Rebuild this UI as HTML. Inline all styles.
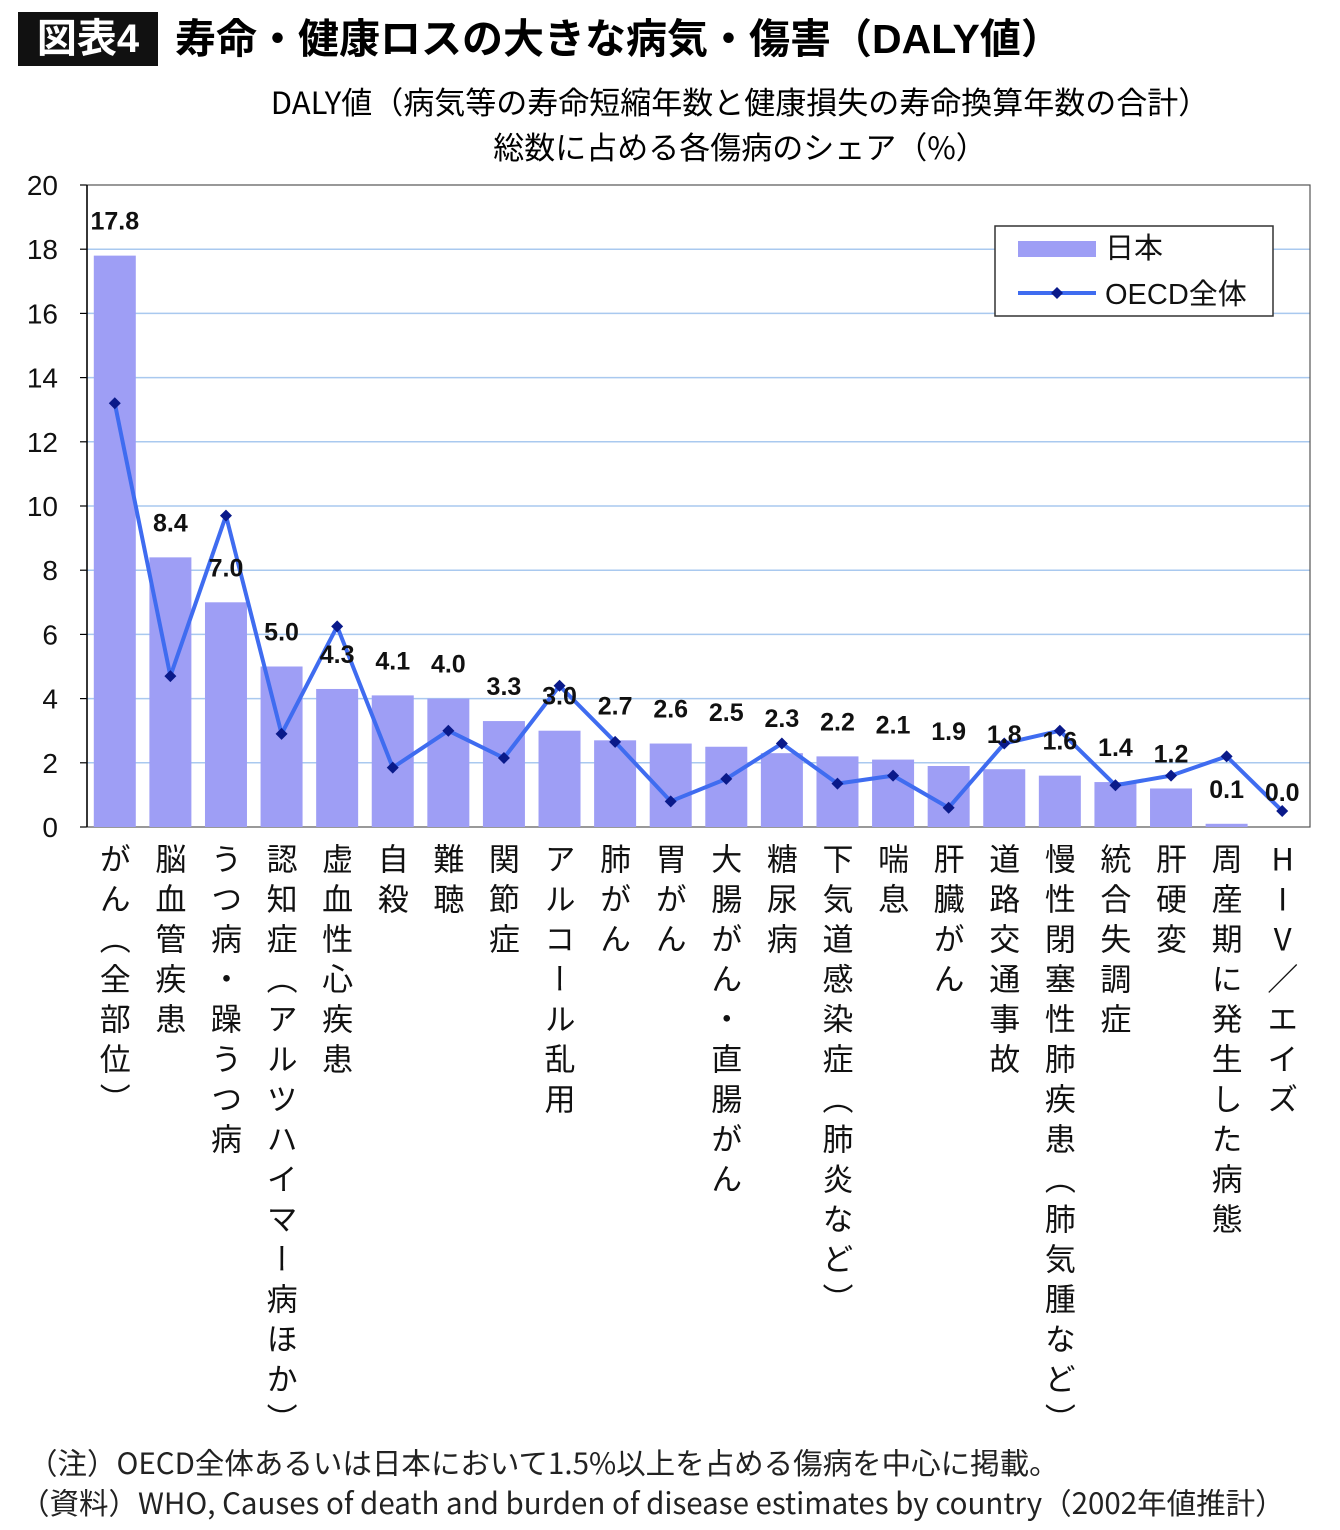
<!DOCTYPE html>
<html><head><meta charset="utf-8">
<style>
body{margin:0;width:1340px;height:1530px;background:#fff;font-family:"Liberation Sans","Noto Sans CJK JP",sans-serif;position:relative;overflow:hidden}
.abs{position:absolute}
.cat{position:absolute;top:843px;writing-mode:vertical-rl;text-orientation:upright;font-family:"Noto Sans CJK JP",sans-serif;font-size:31px;letter-spacing:9px;line-height:40px;width:40px;color:#111}
</style></head><body>
<div class="abs" style="left:18px;top:12px;width:140px;height:54px;background:#111;color:#fff;font-size:40px;font-weight:bold;line-height:54px;text-align:center">図表4</div>
<div class="abs" style="left:175px;top:10px;font-size:41px;font-weight:bold;line-height:58px;white-space:nowrap">寿命・健康ロスの大きな病気・傷害（DALY値）</div>
<div class="abs" style="left:170px;top:78px;width:1140px;text-align:center;font-size:31px;line-height:45px;font-family:'Noto Sans CJK JP',sans-serif">DALY値（病気等の寿命短縮年数と健康損失の寿命換算年数の合計）<br>総数に占める各傷病のシェア（%）</div>
<svg id="chart" class="abs" style="left:0;top:0" width="1340" height="1530"></svg>
<div id="cats"></div>
<div class="abs" style="left:28px;top:1441px;font-size:29.5px;color:#222;white-space:nowrap;font-family:'Noto Sans CJK JP',sans-serif">（注）OECD全体あるいは日本において1.5%以上を占める傷病を中心に掲載。</div>
<div class="abs" style="left:20px;top:1481px;font-size:29.5px;color:#222;white-space:nowrap;font-family:'Noto Sans CJK JP',sans-serif">（資料）WHO, Causes of death and burden of disease estimates by country（2002年値推計）</div>
<script>
const categories=["がん（全部位）","脳血管疾患","うつ病・躁うつ病","認知症（アルツハイマー病ほか）","虚血性心疾患","自殺","難聴","関節症","アルコール乱用","肺がん","胃がん","大腸がん・直腸がん","糖尿病","下気道感染症（肺炎など）","喘息","肝臓がん","道路交通事故","慢性閉塞性肺疾患（肺気腫など）","統合失調症","肝硬変","周産期に発生した病態","HIV／エイズ"];
const japanValues=[17.8,8.4,7.0,5.0,4.3,4.1,4.0,3.3,3.0,2.7,2.6,2.5,2.3,2.2,2.1,1.9,1.8,1.6,1.4,1.2,0.1,0.0];
const oecdValues=[13.2,4.7,9.7,2.9,6.25,1.85,3.0,2.15,4.4,2.65,0.8,1.5,2.6,1.35,1.6,0.6,2.6,3.0,1.3,1.6,2.2,0.5];
const yTicks=[0,2,4,6,8,10,12,14,16,18,20];
const NS="http://www.w3.org/2000/svg";
const svg=document.getElementById('chart');
const L=87,R=1310,T=185,B=827,yMax=20;
const step=(R-L)/categories.length;
const y=v=>B-(v/yMax)*(B-T);
const xc=i=>L+step*(i+0.5);
function mk(tag,attrs,parent){const e=document.createElementNS(NS,tag);for(const k in attrs)e.setAttribute(k,attrs[k]);(parent||svg).appendChild(e);return e;}
yTicks.forEach(t=>{
  if(t>0&&t<20){const g=mk('line',{x1:L,x2:R,y1:y(t),y2:y(t),stroke:'#a9c9ef','stroke-width':1.5});
  
  }
  mk('line',{x1:L-7,x2:L,y1:y(t),y2:y(t),stroke:'#000','stroke-width':1.2});
  const tl=mk('text',{x:58,y:y(t)+10,'text-anchor':'end','font-size':28,fill:'#111'});
  tl.textContent=t;
  
  
});
mk('rect',{x:L,y:T,width:R-L,height:B-T,fill:'none',stroke:'#555','stroke-width':1.2});
mk('line',{x1:L,x2:L,y1:T,y2:B,stroke:'#000','stroke-width':1.5});
const bw=42;
japanValues.forEach((v,i)=>{
  const r=mk('rect',{x:xc(i)-bw/2,y:y(v),width:bw,height:B-y(v),fill:'#9e9ef5'});
  
  
});
const pts=oecdValues.map((v,i)=>xc(i)+','+y(v)).join(' ');
const pl=mk('polyline',{points:pts,fill:'none',stroke:'#3f6cf0','stroke-width':4,'stroke-linejoin':'round'});


oecdValues.forEach((v,i)=>{
  const cx=xc(i),cy=y(v);
  const m=mk('polygon',{points:`${cx},${cy-6} ${cx+6},${cy} ${cx},${cy+6} ${cx-6},${cy}`,fill:'#0a1a8a'});
  
  
});
japanValues.forEach((v,i)=>{
  const t=mk('text',{x:xc(i),y:y(v)-26,'text-anchor':'middle','font-size':25,'font-weight':'bold',fill:'#111'});
  t.textContent=v.toFixed(1);
  
  
});
const catBox=document.getElementById('cats');
categories.forEach((c,i)=>{
  const d=document.createElement('div');
  d.className='cat';
  d.style.left=(xc(i)-20)+'px';
  d.textContent=c;
  
  
  catBox.appendChild(d);
});
const lg=mk('g',{});


mk('rect',{x:995,y:226,width:278,height:90,fill:'#fff',stroke:'#333','stroke-width':1.5},lg);
mk('rect',{x:1018,y:241,width:78,height:16,fill:'#9e9ef5'},lg);
const t1=mk('text',{x:1105,y:258,'font-size':29,fill:'#111'},lg);t1.textContent='日本';
mk('line',{x1:1018,x2:1096,y1:293,y2:293,stroke:'#3f6cf0','stroke-width':4},lg);
mk('polygon',{points:'1057,287 1063,293 1057,299 1051,293',fill:'#0a1a8a'},lg);
const t2=mk('text',{x:1105,y:304,'font-size':29,fill:'#111'},lg);t2.textContent='OECD全体';
</script>
</body></html>
